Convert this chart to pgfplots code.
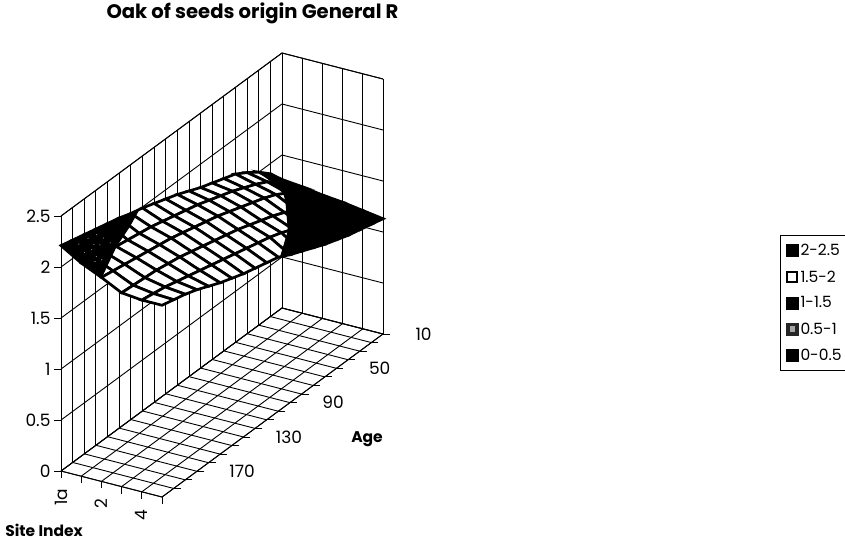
\documentclass[border=0pt]{standalone}
\usepackage{fontspec}
\setmainfont{Poppins}
\usepackage{pgfplots}
\pgfplotsset{compat=1.18}
\begin{document}
\begin{tikzpicture}
\path[use as bounding box] (0,0) rectangle (845pt,540pt);
\begin{axis}[
  at={(282pt,232pt)}, anchor=origin,
  x={(20.2pt,-5.2pt)}, y={(11.63pt,8.58pt)}, z={(0pt,102pt)},
  y dir=reverse,
  xmin=0,xmax=5,ymin=0,ymax=19,zmin=0,zmax=2.5,
  clip=false,
  3d box=background,
  grid=major,
  grid style={black,line width=0.9pt},
  axis line style={black,line width=0.9pt},
  major tick length=0pt,
  xtick={0,1,2,3,4,5}, xticklabels={1a,,2,,4,},
  ytick={0,1,...,19}, yticklabels={10,,,,50,,,,90,,,,130,,,,170,,,},
  ztick={0,0.5,1,1.5,2,2.5}, zticklabels={0,0.5,1,1.5,2,2.5},
  tick label style={font=\fontsize{17}{17}\selectfont},
  /pgf/number format/assume math mode=true,
  xticklabel style={rotate=90,anchor=east,xshift=-14pt,yshift=0pt},
  yticklabel style={anchor=west,xshift=29pt,yshift=0pt},
  zticklabel style={anchor=east,xshift=-7pt},
  title={\bfseries Oak of seeds origin General R},
  title style={at={(axis cs:0,0,0)},anchor=center,xshift=-29.5pt,yshift=289pt,font=\fontsize{19.6}{19.6}\selectfont},
  xlabel={\bfseries Site Index},
  xlabel style={at={(axis cs:0,19,0)},anchor=center,rotate=0,xshift=-17pt,yshift=-59pt,font=\fontsize{15.5}{15.5}\selectfont},
  ylabel={\bfseries Age},
  ylabel style={at={(axis cs:5,0,0)},anchor=center,rotate=0,xshift=-16pt,yshift=-105pt,font=\fontsize{15.5}{15.5}\selectfont},
  legend style={at={(axis cs:0,0,0)},anchor=north west,xshift=498pt,yshift=73pt,
    draw=black,line width=1pt,font=\fontsize{15.5}{15.5}\selectfont,
    row sep=9.2pt,inner xsep=5pt,inner ysep=7pt,cells={anchor=west}},
]
\addlegendimage{legend image code/.code={\fill[black] (0pt,-6pt) rectangle (12pt,6pt);}}
\addlegendimage{legend image code/.code={\draw[black,line width=2pt,fill=white] (1pt,-5pt) rectangle (11pt,5pt);}}
\addlegendimage{legend image code/.code={\fill[black] (0pt,-6pt) rectangle (12pt,6pt);}}
\addlegendimage{legend image code/.code={\fill[black!85] (0pt,-6pt) rectangle (12pt,6pt);\fill[black!35] (4pt,-2.5pt) rectangle (8.5pt,2.5pt);}}
\addlegendimage{legend image code/.code={\fill[black] (0pt,-6pt) rectangle (12pt,6pt);}}
\legend{2-2.5,1.5-2,1-1.5,0.5-1,0-0.5}
\addplot3[surf,shader=faceted,faceted color=black,line width=2.7pt,
  colormap={allwhite}{color=(white) color=(white)},mesh/cols=6,mesh/rows=20,forget plot]
table {
0 0 1.26
1 0 1.24
2 0 1.21
3 0 1.19
4 0 1.16
5 0 1.13
0 1 1.40
1 1 1.34
2 1 1.29
3 1 1.25
4 1 1.20
5 1 1.16
0 2 1.50
1 2 1.45
2 2 1.39
3 2 1.31
4 2 1.25
5 2 1.19
0 3 1.58
1 3 1.54
2 3 1.48
3 3 1.37
4 3 1.30
5 3 1.22
0 4 1.65
1 4 1.60
2 4 1.55
3 4 1.45
4 4 1.36
5 4 1.26
0 5 1.69
1 5 1.65
2 5 1.60
3 5 1.51
4 5 1.42
5 5 1.30
0 6 1.73
1 6 1.70
2 6 1.64
3 6 1.56
4 6 1.48
5 6 1.35
0 7 1.77
1 7 1.74
2 7 1.68
3 7 1.60
4 7 1.53
5 7 1.40
0 8 1.82
1 8 1.78
2 8 1.72
3 8 1.64
4 8 1.57
5 8 1.45
0 9 1.87
1 9 1.82
2 9 1.76
3 9 1.68
4 9 1.60
5 9 1.51
0 10 1.91
1 10 1.85
2 10 1.79
3 10 1.71
4 10 1.63
5 10 1.54
0 11 1.95
1 11 1.88
2 11 1.82
3 11 1.74
4 11 1.66
5 11 1.57
0 12 1.99
1 12 1.91
2 12 1.85
3 12 1.77
4 12 1.69
5 12 1.60
0 13 2.02
1 13 1.94
2 13 1.88
3 13 1.80
4 13 1.72
5 13 1.64
0 14 2.06
1 14 1.96
2 14 1.90
3 14 1.83
4 14 1.75
5 14 1.68
0 15 2.09
1 15 1.98
2 15 1.92
3 15 1.85
4 15 1.78
5 15 1.73
0 16 2.12
1 16 2.00
2 16 1.94
3 16 1.87
4 16 1.81
5 16 1.78
0 17 2.15
1 17 2.03
2 17 1.96
3 17 1.88
4 17 1.84
5 17 1.82
0 18 2.18
1 18 2.06
2 18 1.98
3 18 1.89
4 18 1.86
5 18 1.85
0 19 2.21
1 19 2.09
2 19 2.00
3 19 1.90
4 19 1.88
5 19 1.88
};
% band above 2
\addplot3[fill=black,draw=black,line width=1pt,forget plot] coordinates {
(0,12.3,2) (0,13,2.02) (0,14,2.06) (0,15,2.09) (0,16,2.12) (0,17,2.15) (0,18,2.18) (0,19,2.21)
(1,19,2.09) (2,19,2.00) (1.5,17.5,2) (1,16,2) (0.5,14,2) } -- cycle;
% band below 1.5
\addplot3[fill=black,draw=black,line width=1pt,forget plot] coordinates {
(0,2,1.5) (0,1,1.40) (0,0,1.26) (1,0,1.24) (2,0,1.21) (3,0,1.19) (4,0,1.16) (5,0,1.13)
(5,1,1.16) (5,2,1.19) (5,3,1.22) (5,4,1.26) (5,5,1.30) (5,6,1.35) (5,7,1.40) (5,8,1.45) (5,8.8,1.5)
(4.5,7.6,1.5) (4,6.4,1.5) (3.5,5.6,1.5) (3,4.8,1.5) (2.5,4,1.5) (2,3.3,1.5) (1,2.55,1.5) } -- cycle;
% speckle of the 2-2.5 band
\addplot3[only marks,mark=*,mark size=0.3pt,color=black!45,forget plot] coordinates {
(0.07,16.8,2.1) (0.21,16.3,2.1) (0.62,16.44,2.1) (1.11,16.7,2.1) (0.59,17.2,2.1) (0.83,17.1,2.1)
(0.77,17.7,2.1) (1.29,18.2,2.1) (1.64,18.35,2.1) (1.48,18.65,2.1) (0.64,18.1,2.1) (0.02,17.5,2.1) };
\pgfplotsinvokeforeach{0,1,2,3,4,5}{\draw[black,line width=0.9pt] (axis cs:#1,19,0) -- ++(0pt,-7pt);}
\pgfplotsinvokeforeach{0,1,...,18}{\draw[black,line width=0.9pt] (axis cs:5,#1,0) -- ++(7pt,0pt);}
\pgfplotsinvokeforeach{0,0.5,1,1.5,2,2.5}{\draw[black,line width=0.9pt] (axis cs:0,19,#1) -- ++(-7pt,0pt);}
\end{axis}
\end{tikzpicture}
\end{document}
